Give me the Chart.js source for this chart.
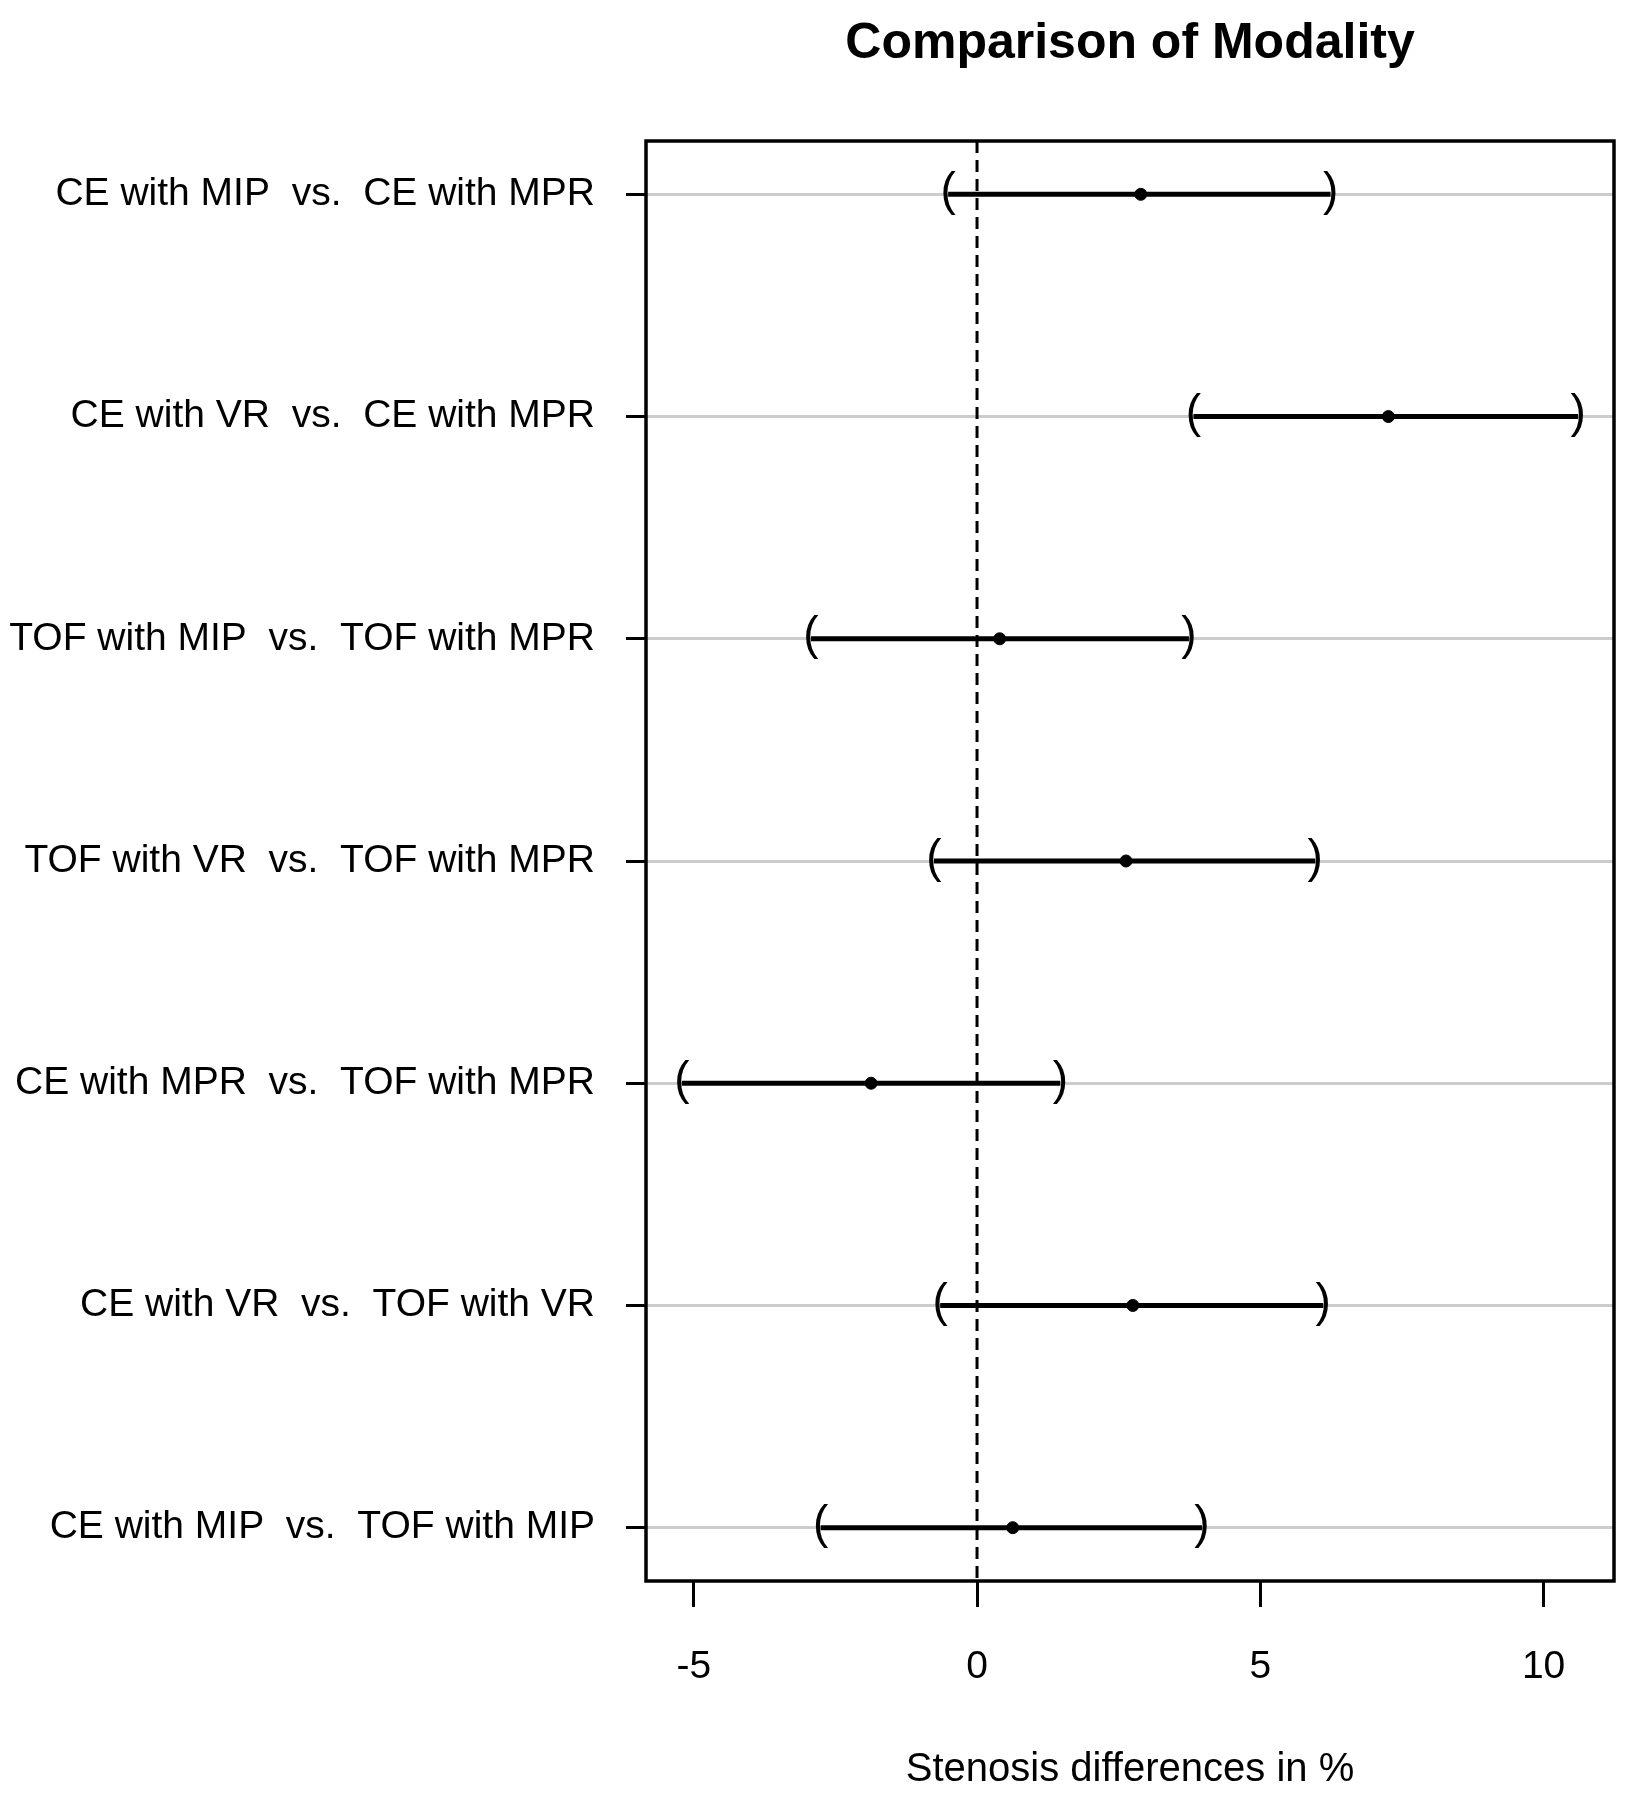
<!DOCTYPE html>
<html>
<head>
<meta charset="utf-8">
<script src="https://cdn.jsdelivr.net/npm/chart.js@4.4.1/dist/chart.umd.min.js"></script>
<style>
    html, body { margin: 0; padding: 0; background: #fff; }
    #wrap { width: 1633px; height: 1800px; }
</style>
</head>
<body>
<div id="wrap"><canvas id="forest"></canvas></div>
<script>
const comparisons = [
    "CE with MIP  vs.  CE with MPR",
    "CE with VR  vs.  CE with MPR",
    "TOF with MIP  vs.  TOF with MPR",
    "TOF with VR  vs.  TOF with MPR",
    "CE with MPR  vs.  TOF with MPR",
    "CE with VR  vs.  TOF with VR",
    "CE with MIP  vs.  TOF with MIP"
];
const estimates = [2.89, 7.26, 0.40, 2.63, -1.87, 2.75, 0.63];
const lowerCI = [-0.51, 3.82, -2.93, -0.76, -5.21, -0.65, -2.76];
const upperCI = [6.24, 10.61, 3.74, 5.97, 1.47, 6.11, 3.97];
const xTicks = [-5, 0, 5, 10];
const rows = comparisons.map((c, i) => i + 1);

const labelFont = "'Liberation Sans', Arial, sans-serif";

// R style axis range: data range plus 4% each side
const lo = Math.min(...lowerCI), hi = Math.max(...upperCI);
const pad = (hi - lo) * 0.04;
const rowPad = (rows.length - 1) * 0.04;

let datasets = rows.map((r, i) => ({
    type: "line",
    data: [{ x: lowerCI[i], y: r }, { x: upperCI[i], y: r }],
    borderColor: "#000",
    borderWidth: 5,
    pointRadius: 0,
    isInterval: true
}));
datasets.push({
    type: "scatter",
    data: rows.map((r, i) => ({ x: estimates[i], y: r })),
    backgroundColor: "#000",
    borderColor: "#000",
    pointRadius: 6,
    pointStyle: "circle"
});

// box, zero line and the ( ) end marks
const extras = {
    id: "extras",
    beforeDatasetsDraw(chart) {
        const ctx = chart.ctx, a = chart.chartArea;
        const x0 = chart.scales.x.getPixelForValue(0);
        ctx.save();
        ctx.strokeStyle = "#000";
        ctx.lineWidth = 3;
        ctx.setLineDash([12, 7]);
        ctx.beginPath();
        ctx.moveTo(x0, a.top);
        ctx.lineTo(x0, a.bottom);
        ctx.stroke();
        ctx.restore();
    },
    afterDatasetsDraw(chart) {
        const ctx = chart.ctx, a = chart.chartArea;
        ctx.save();
        ctx.fillStyle = "#000";
        ctx.font = "46px " + labelFont;
        ctx.textAlign = "center";
        ctx.textBaseline = "middle";
        chart.data.datasets.forEach((ds, i) => {
            if (!ds.isInterval) return;
            const pts = chart.getDatasetMeta(i).data;
            ctx.fillText("(", pts[0].x, pts[0].y - 2);
            ctx.fillText(")", pts[1].x, pts[1].y - 2);
        });
        ctx.strokeStyle = "#000";
        ctx.lineWidth = 3.5;
        ctx.strokeRect(a.left, a.top, a.right - a.left, a.bottom - a.top);
        ctx.restore();
    }
};

new Chart(document.getElementById("forest"), {
    data: { datasets: datasets },
    plugins: [extras],
    options: {
        responsive: true,
        maintainAspectRatio: false,
        animation: false,
        layout: { padding: { left: 0, right: 19, top: 0, bottom: 0 } },
        plugins: {
            legend: { display: false },
            tooltip: { enabled: false },
            title: {
                display: true,
                text: "Comparison of Modality",
                fullSize: false,
                color: "#000",
                font: { family: labelFont, size: 50, weight: "bold" },
                padding: { top: 14, bottom: 67 }
            }
        },
        scales: {
            x: {
                type: "linear",
                min: lo - pad,
                max: hi + pad,
                afterBuildTicks: s => { s.ticks = xTicks.map(v => ({ value: v })); },
                afterFit: s => { s.height = 219; },
                grid: { drawOnChartArea: false, tickLength: 26, tickColor: "#000", tickWidth: 3 },
                border: { display: false },
                ticks: { color: "#000", font: { family: labelFont, size: 39 }, padding: 37, maxRotation: 0 },
                title: {
                    display: true,
                    text: "Stenosis differences in %",
                    color: "#000",
                    font: { family: labelFont, size: 40 },
                    padding: { top: 0, bottom: 6 }
                }
            },
            y: {
                type: "linear",
                reverse: true,
                min: 1 - rowPad,
                max: rows.length + rowPad,
                afterBuildTicks: s => { s.ticks = rows.map(v => ({ value: v })); },
                afterFit: s => { s.width = 646; },
                grid: { color: "#cccccc", lineWidth: 3, tickLength: 20, tickColor: "#000", tickWidth: 3 },
                border: { display: false },
                ticks: {
                    color: "#000",
                    font: { family: labelFont, size: 39 },
                    padding: 31,
                    callback: v => comparisons[v - 1]
                }
            }
        }
    }
});
</script>
</body>
</html>
